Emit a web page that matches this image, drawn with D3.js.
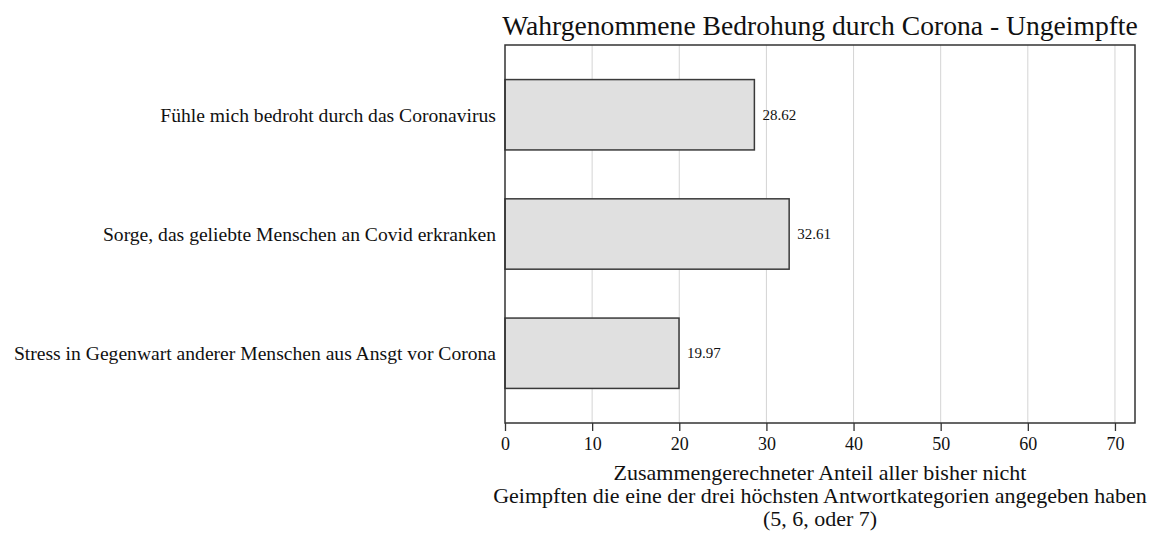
<!DOCTYPE html>
<html>
<head>
<meta charset="utf-8">
<script src="https://cdn.jsdelivr.net/npm/d3@7"></script>
<style>
  body { margin: 0; background: #fff; }
  svg { font-family: "Liberation Serif", "Times New Roman", serif; }
</style>
</head>
<body>
<script>
var categories = [
  "Fühle mich bedroht durch das Coronavirus",
  "Sorge, das geliebte Menschen an Covid erkranken",
  "Stress in Gegenwart anderer Menschen aus Ansgt vor Corona"
];
var values = [28.62, 32.61, 19.97];
var xTicks = [0, 10, 20, 30, 40, 50, 60, 70];
var titleText = "Wahrgenommene Bedrohung durch Corona - Ungeimpfte";
var xTitleLines = [
  "Zusammengerechneter Anteil aller bisher nicht",
  "Geimpften die eine der drei höchsten Antwortkategorien angegeben haben",
  "(5, 6, oder 7)"
];

var width = 1162, height = 533;
var margin = {top: 45, right: 27, bottom: 110, left: 505};
var plotW = width - margin.left - margin.right;
var plotH = height - margin.top - margin.bottom;

var svg = d3.select("body").append("svg")
  .attr("width", width)
  .attr("height", height);

var x = d3.scaleLinear().domain([0, 72.3]).range([0, plotW]);
var y = d3.scaleBand().domain(categories).range([0, plotH])
  .paddingInner(0.41).paddingOuter(0.29);

var g = svg.append("g").attr("transform", "translate(" + margin.left + "," + margin.top + ")");

// gridlines
g.selectAll("line.grid")
  .data(xTicks.slice(1))
  .enter()
  .append("line")
  .attr("class", "grid")
  .attr("x1", function(d) { return x(d); })
  .attr("x2", function(d) { return x(d); })
  .attr("y1", 0)
  .attr("y2", plotH)
  .attr("stroke", "#d4d4d4")
  .attr("stroke-width", 1);

// bars
g.selectAll("rect.bar")
  .data(values)
  .enter()
  .append("rect")
  .attr("class", "bar")
  .attr("x", x(0))
  .attr("y", function(d, i) { return y(categories[i]); })
  .attr("width", function(d) { return x(d) - x(0); })
  .attr("height", y.bandwidth())
  .attr("fill", "#e0e0e0")
  .attr("stroke", "#3a3a3a")
  .attr("stroke-width", 1.5);

// value labels
g.selectAll("text.val")
  .data(values)
  .enter()
  .append("text")
  .attr("class", "val")
  .attr("x", function(d) { return x(d) + 8; })
  .attr("y", function(d, i) { return y(categories[i]) + y.bandwidth() / 2; })
  .attr("dy", "0.35em")
  .attr("font-size", "15px")
  .attr("fill", "#111")
  .text(function(d) { return d.toFixed(2); });

// frame
g.append("rect")
  .attr("x", 0).attr("y", 0)
  .attr("width", plotW).attr("height", plotH)
  .attr("fill", "none")
  .attr("stroke", "#333")
  .attr("stroke-width", 1.5);

// x axis
var xAxis = g.append("g")
  .attr("transform", "translate(0," + plotH + ")")
  .call(d3.axisBottom(x).tickValues(xTicks).tickSize(8).tickPadding(6));
xAxis.select(".domain").remove();
xAxis.selectAll(".tick line").attr("stroke", "#333").attr("stroke-width", 1.3);
xAxis.selectAll(".tick text")
  .attr("font-family", "Liberation Serif, serif")
  .attr("font-size", "18px")
  .attr("fill", "#111");

// category labels
g.selectAll("text.cat")
  .data(categories)
  .enter()
  .append("text")
  .attr("class", "cat")
  .attr("x", -9)
  .attr("y", function(d) { return y(d) + y.bandwidth() / 2; })
  .attr("dy", "0.35em")
  .attr("text-anchor", "end")
  .attr("font-size", "19.6px")
  .attr("fill", "#111")
  .text(function(d) { return d; });

// x axis title
svg.selectAll("text.xtitle")
  .data(xTitleLines)
  .enter()
  .append("text")
  .attr("class", "xtitle")
  .attr("x", margin.left + plotW / 2)
  .attr("y", function(d, i) { return 480 + i * 23; })
  .attr("text-anchor", "middle")
  .attr("font-size", "22px")
  .attr("fill", "#111")
  .text(function(d) { return d; });

// title
svg.append("text")
  .attr("x", margin.left + plotW / 2)
  .attr("y", 35)
  .attr("text-anchor", "middle")
  .attr("font-size", "27.6px")
  .attr("fill", "#111")
  .text(titleText);
</script>
</body>
</html>
